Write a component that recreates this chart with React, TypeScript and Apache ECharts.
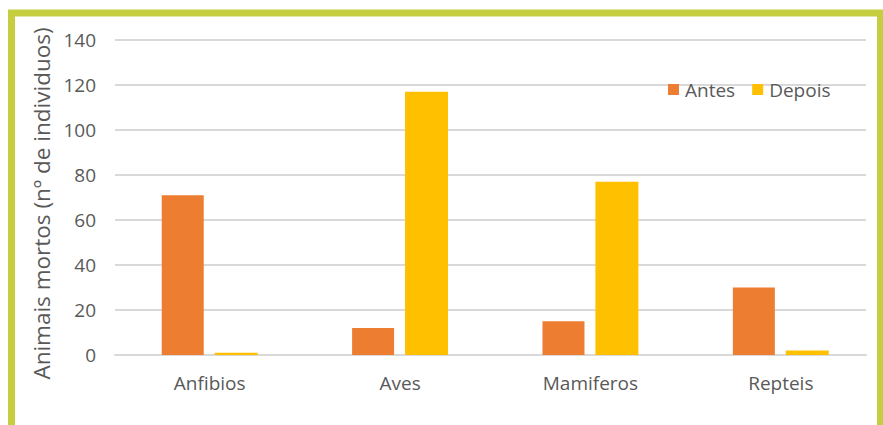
import React, { useEffect, useRef } from "react";
import * as echarts from "echarts";

const categories = ["Anfibios", "Aves", "Mamiferos", "Repteis"];
const antes = [71, 12, 15, 30];
const depois = [1, 117, 77, 2];
const seriesNames = ["Antes", "Depois"];
const yAxisTitle = "Animais mortos (nº de individuos)";
const yMin = 0;
const yMax = 140;
const yStep = 20;

const FONT = "Open Sans";
const TEXT = "#595959";
const GRID_LINE = "#D9D9D9";

export default function App() {
  const ref = useRef<HTMLDivElement>(null);
  useEffect(() => {
    if (!ref.current) return;
    const chart = echarts.init(ref.current, undefined, { renderer: "svg" });
    chart.setOption({
      animation: false,
      backgroundColor: "#ffffff",
      textStyle: { fontFamily: FONT },
      graphic: [
        {
          type: "rect",
          shape: { x: 11.5, y: 13, width: 869, height: 430 },
          style: { fill: "none", stroke: "#C5CE3E", lineWidth: 7 },
          silent: true,
        },
      ],
      legend: {
        data: seriesNames,
        left: 668,
        top: 80,
        padding: 0,
        icon: "rect",
        itemWidth: 11,
        itemHeight: 11,
        itemGap: 17,
        textStyle: { color: TEXT, fontSize: 19, fontFamily: FONT, padding: [0, 0, 0, 1] },
      },
      grid: [
        { left: 115, right: 17, top: 40, bottom: 70, containLabel: false },
        { left: 114.5, right: 7, top: 40, bottom: 70, containLabel: false },
      ],
      xAxis: [
        {
          type: "category",
          gridIndex: 0,
          data: categories,
          axisLine: { lineStyle: { color: GRID_LINE, width: 2 } },
          axisTick: { show: false },
          axisLabel: { show: false },
        },
        {
          type: "category",
          gridIndex: 1,
          data: categories,
          axisLine: { show: false },
          axisTick: { show: false },
          axisLabel: { color: TEXT, fontSize: 19, fontFamily: FONT, margin: 18 },
        },
      ],
      yAxis: [
        {
          type: "value",
          gridIndex: 0,
          min: yMin,
          max: yMax,
          interval: yStep,
          name: yAxisTitle,
          nameLocation: "middle",
          nameGap: 59,
          nameTextStyle: { color: TEXT, fontSize: 22.5, fontFamily: FONT, padding: [0, 12, 0, 0] },
          axisLine: { show: false },
          axisTick: { show: false },
          axisLabel: { color: TEXT, fontSize: 19, fontFamily: FONT, margin: 19 },
          splitLine: { lineStyle: { color: GRID_LINE, width: 2 } },
        },
        {
          type: "value",
          gridIndex: 1,
          min: yMin,
          max: yMax,
          interval: yStep,
          show: false,
          splitLine: { show: false },
        },
      ],
      series: [
        {
          name: seriesNames[0],
          type: "bar",
          xAxisIndex: 1,
          yAxisIndex: 1,
          data: antes,
          barWidth: 42,
          barGap: "26%",
          itemStyle: { color: "#ED7D31" },
        },
        {
          name: seriesNames[1],
          type: "bar",
          xAxisIndex: 1,
          yAxisIndex: 1,
          data: depois,
          barWidth: 43,
          itemStyle: { color: "#FFC000" },
        },
      ],
    });
    return () => chart.dispose();
  }, []);
  return (
    <div
      ref={ref}
      style={{ position: "fixed", left: 0, top: 0, width: 883, height: 425 }}
    />
  );
}
